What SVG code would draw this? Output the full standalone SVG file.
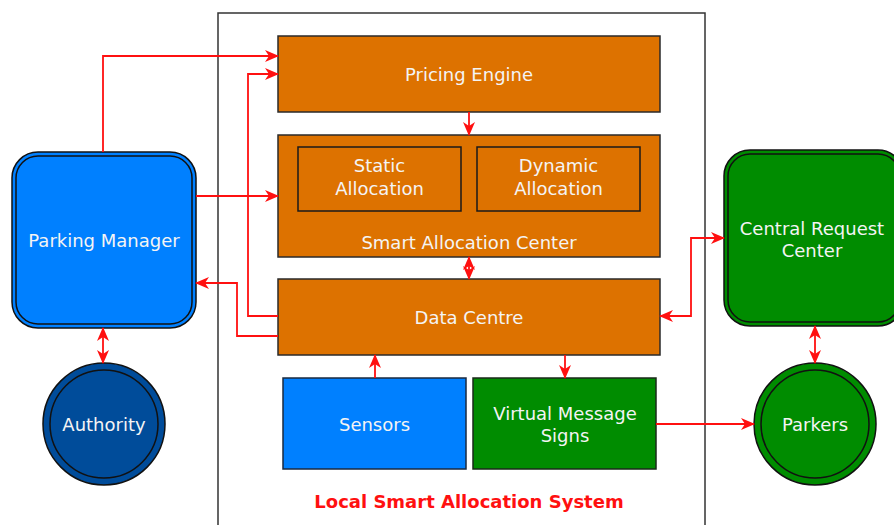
<svg xmlns="http://www.w3.org/2000/svg" width="894" height="525" viewBox="0 0 894 525">
<style>
.t{font-family:"DejaVu Sans",Verdana,sans-serif;font-size:18px;fill:#f4f4f4;text-anchor:middle}
.o{fill:#DD7200;stroke:#2a2a2a;stroke-width:1.5}
.ob{fill:none;stroke:#1a1a1a;stroke-width:1.5}
.c{fill:none;stroke:#ff1010;stroke-width:1.8}
</style>
<defs>
<marker id="a" markerUnits="userSpaceOnUse" markerWidth="14" markerHeight="12" viewBox="0 0 14 12" refX="13" refY="6" orient="auto-start-reverse">
<path d="M0,0 L14,6 L0,12 L4,6 z" fill="#ff1010"/>
</marker>
</defs>
<rect width="894" height="525" fill="#fff"/>
<g id="frame">
<rect x="218" y="13" width="487" height="530" fill="none" stroke="#333" stroke-width="1.5"/>
<text x="469" y="508" style="font-family:'DejaVu Sans',Verdana,sans-serif;font-size:18px;font-weight:bold;fill:#ff1010;text-anchor:middle">Local Smart Allocation System</text>
</g>
<g id="pricing-engine">
<rect class="o" x="278" y="36" width="382" height="76"/>
<text class="t" x="469" y="81">Pricing Engine</text>
</g>
<g id="smart-allocation-center">
<rect class="o" x="278" y="135" width="382" height="122"/>
<text class="t" x="469" y="249">Smart Allocation Center</text>
</g>
<g id="static-allocation">
<rect class="ob" x="298" y="147" width="163" height="64"/>
<text class="t" x="379.5" y="172">Static</text>
<text class="t" x="379.5" y="195">Allocation</text>
</g>
<g id="dynamic-allocation">
<rect class="ob" x="477" y="147" width="163" height="64"/>
<text class="t" x="558.5" y="172">Dynamic</text>
<text class="t" x="558.5" y="195">Allocation</text>
</g>
<g id="data-centre">
<rect class="o" x="278" y="279" width="382" height="76"/>
<text class="t" x="469" y="324">Data Centre</text>
</g>
<g id="sensors">
<rect x="283" y="378" width="183" height="91" fill="#0080FF" stroke="#1a2a40" stroke-width="1.5"/>
<text class="t" x="374.5" y="431">Sensors</text>
</g>
<g id="virtual-message-signs">
<rect x="473" y="378" width="183" height="91" fill="#008C00" stroke="#1a2a1a" stroke-width="1.5"/>
<text class="t" x="565" y="420">Virtual Message</text>
<text class="t" x="565" y="442">Signs</text>
</g>
<g id="parking-manager">
<rect x="12" y="152" width="184" height="176" rx="26" fill="#0080FF" stroke="#111" stroke-width="1.5"/>
<rect x="16" y="156" width="176" height="168" rx="22" fill="none" stroke="#111" stroke-width="1.5"/>
<text class="t" x="104" y="247">Parking Manager</text>
</g>
<g id="authority">
<circle cx="104" cy="424" r="61" fill="#004C9A" stroke="#111" stroke-width="1.5"/>
<circle cx="104" cy="424" r="54" fill="none" stroke="#111" stroke-width="1.5"/>
<text class="t" x="104" y="431">Authority</text>
</g>
<g id="central-request-center">
<rect x="724" y="150" width="180" height="176" rx="26" fill="#008C00" stroke="#111" stroke-width="1.5"/>
<rect x="728" y="154" width="172" height="168" rx="22" fill="none" stroke="#111" stroke-width="1.5"/>
<text class="t" x="812" y="235">Central Request</text>
<text class="t" x="812" y="257">Center</text>
</g>
<g id="parkers">
<circle cx="815" cy="424" r="61" fill="#008C00" stroke="#111" stroke-width="1.5"/>
<circle cx="815" cy="424" r="54" fill="none" stroke="#111" stroke-width="1.5"/>
<text class="t" x="815" y="431">Parkers</text>
</g>
<g id="connectors">
<path class="c" d="M103,152 V56 H278" marker-end="url(#a)"/>
<path class="c" d="M278,316 H248 V74 H278" marker-end="url(#a)"/>
<path class="c" d="M196,196 H278" marker-end="url(#a)"/>
<path class="c" d="M278,336 H237 V283 H196" marker-end="url(#a)"/>
<path class="c" d="M469,112 V135" marker-end="url(#a)"/>
<path class="c" d="M469,257 V279" marker-start="url(#a)" marker-end="url(#a)"/>
<path class="c" d="M375,378 V355" marker-end="url(#a)"/>
<path class="c" d="M565,355 V378" marker-end="url(#a)"/>
<path class="c" d="M660,316 H691 V238 H724" marker-start="url(#a)" marker-end="url(#a)"/>
<path class="c" d="M815,326 V363" marker-start="url(#a)" marker-end="url(#a)"/>
<path class="c" d="M656,424 H754" marker-end="url(#a)"/>
<path class="c" d="M103,328 V363" marker-start="url(#a)" marker-end="url(#a)"/>
</g>
</svg>
